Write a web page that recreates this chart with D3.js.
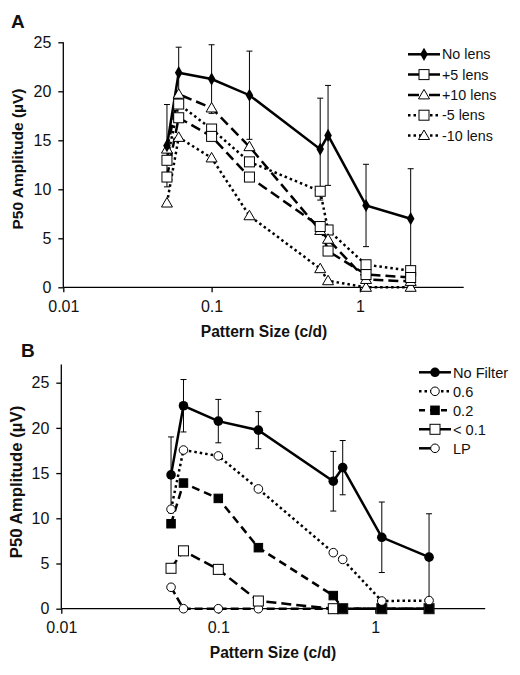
<!DOCTYPE html>
<html><head><meta charset="utf-8">
<script src="https://cdn.jsdelivr.net/npm/d3@7"></script>
<style>body{margin:0;background:#fff}svg{display:block}text{font-family:"Liberation Sans",Arial,sans-serif;fill:#111}</style>
</head><body>
<script>
// ---- Panel A data ----
const xA = [0.05, 0.06, 0.1, 0.18, 0.54, 0.61, 1.1, 2.2];
const noLens = [14.45, 21.9, 21.25, 19.6, 14.1, 15.5, 8.35, 7.0];
const noLensErr = [4.2, 2.6, 3.5, 4.5, 5.2, 5.1, 4.2, 5.1];
const plus5 = [11.25, 17.3, 15.4, 11.25, 6.2, 3.7, 1.3, 1.0];
const plus10 = [14.1, 19.7, 18.3, 14.35, 5.8, 4.9, 0.8, 0.6];
const minus5 = [12.96, 18.7, 16.15, 12.8, 9.8, 5.85, 2.3, 1.7];
const minus10 = [8.6, 15.3, 13.2, 7.3, 1.9, 0.67, 0, 0];
const seriesA = ["No lens", "+5 lens", "+10 lens", "-5 lens", "-10 lens"];
// ---- Panel B data ----
const xB = [0.05, 0.06, 0.1, 0.18, 0.54, 0.62, 1.1, 2.2];
const noFilter = [14.8, 22.45, 20.75, 19.75, 14.1, 15.6, 7.9, 5.7];
const noFilterErr = [4.2, 2.9, 2.4, 2.05, 3.3, 3.0, 3.9, 4.8];
const f06 = [11.0, 17.55, 16.9, 13.25, 6.2, 5.45, 0.85, 0.9];
const f02 = [9.4, 13.9, 12.2, 6.75, 1.45, 0, 0, 0];
const f01 = [4.47, 6.4, 4.35, 0.85, 0, 0, 0, 0];
const lp = [2.37, 0, 0, 0, 0, 0, 0, 0];
const seriesB = ["No Filter", "0.6", "0.2", "< 0.1", "LP"];
// ---- ticks ----
const xTicks = [0.01, 0.1, 1];
const xTickLabels = ["0.01", "0.1", "1"];
const yTicks = [0, 5, 10, 15, 20, 25];

const svg = d3.select("body").append("svg").attr("width", 520).attr("height", 675);

const SOLID = null, DASH = "10,5", DASH2 = "8,5", DOT = "2.5,3", LPDASH = "8,4";

function marker(g, type, x, y) {
  if (type === "diamond") {
    g.append("path").attr("d", d3.symbol(d3.symbolDiamond, 50)()).attr("transform", `translate(${x},${y})`).attr("fill", "#000");
  } else if (type === "sqOpen" || type === "sqFill") {
    const s = type === "sqOpen" ? 10 : 8.5;
    g.append("rect").attr("x", x - s / 2).attr("y", y - s / 2).attr("width", s).attr("height", s)
      .attr("fill", type === "sqOpen" ? "#fff" : "#000").attr("stroke", "#000").attr("stroke-width", 1);
  } else if (type === "tri") {
    g.append("path").attr("d", `M${x},${y - 5.5}L${x + 5.5},${y + 4}L${x - 5.5},${y + 4}Z`)
      .attr("fill", "#fff").attr("stroke", "#000").attr("stroke-width", 1);
  } else if (type === "circFill") {
    g.append("circle").attr("cx", x).attr("cy", y).attr("r", 4.8).attr("fill", "#000");
  } else if (type === "circOpen") {
    g.append("circle").attr("cx", x).attr("cy", y).attr("r", 4.3).attr("fill", "#fff").attr("stroke", "#000").attr("stroke-width", 1);
  }
}

function panel(cfg) {
  const x = d3.scaleLog().domain([0.01, Math.pow(10, 0.7)]).range([cfg.x0, cfg.x1]);
  const y = d3.scaleLinear().domain([0, cfg.ymax]).range([cfg.y0, cfg.y1]);
  const g = svg.append("g");

  const xa = g.append("g").attr("transform", `translate(0,${cfg.y0})`)
    .call(d3.axisBottom(x).tickValues(xTicks).tickFormat((d, i) => xTickLabels[i]).tickSize(5).tickPadding(5));
  const ya = g.append("g").attr("transform", `translate(${cfg.x0},0)`)
    .call(d3.axisLeft(y).tickValues(yTicks).tickSize(5).tickPadding(7));
  [xa, ya].forEach(a => {
    a.select(".domain").attr("stroke", "#000").attr("stroke-width", 1.3).attr("d",
      a === xa ? `M${cfg.x0},0H${cfg.x1}` : `M0,${cfg.y0}V${cfg.y1}`);
    a.selectAll(".tick line").attr("stroke", "#000").attr("stroke-width", 1.3);
    a.selectAll(".tick text").style("font-size", "16px").attr("fill", "#111")
      .style("font-family", '"Liberation Sans",Arial,sans-serif');
  });
  xa.selectAll(".tick text").attr("dy", "0.9em");

  const eg = g.append("g").attr("stroke", "#000").attr("stroke-width", 1);
  cfg.xs.forEach((xv, i) => {
    const v = cfg.main[i], e = cfg.err[i];
    const px = x(xv);
    eg.append("line").attr("x1", px).attr("x2", px).attr("y1", y(v + e)).attr("y2", y(Math.max(0, v - e)));
    eg.append("line").attr("x1", px - 3).attr("x2", px + 3).attr("y1", y(v + e)).attr("y2", y(v + e));
    if (v - e > 0) eg.append("line").attr("x1", px - 3).attr("x2", px + 3).attr("y1", y(v - e)).attr("y2", y(v - e));
  });

  const line = d3.line().x(d => x(d[0])).y(d => y(d[1]));
  cfg.series.slice().reverse().forEach(s => {
    g.append("path").attr("d", line(cfg.xs.map((xv, i) => [xv, s.vals[i]])))
      .attr("fill", "none").attr("stroke", "#000").attr("stroke-width", s.w || 2.5)
      .attr("stroke-dasharray", s.dash);
  });
  cfg.series.slice().reverse().forEach(s => {
    cfg.xs.forEach((xv, i) => marker(g, s.mk, x(xv), y(s.vals[i])));
  });

  cfg.series.forEach((s, i) => {
    const ly = cfg.legY + i * cfg.legDy;
    const lx0 = cfg.legX, lx1 = cfg.legX + 32;
    const mid = (lx0 + lx1) / 2;
    g.append("line").attr("x1", lx0).attr("x2", s.legHalf ? mid : lx1).attr("y1", ly).attr("y2", ly)
      .attr("stroke", "#000").attr("stroke-width", s.w || 2.5).attr("stroke-dasharray", s.legDash === undefined ? s.dash : s.legDash);
    marker(g, s.mk, mid, ly);
    g.append("text").attr("x", lx1 + 2).attr("y", ly).attr("dy", "0.36em")
      .style("font-size", cfg.legFont + "px").text(s.name);
  });

  g.append("text").attr("x", cfg.xtX).attr("y", cfg.xtY).attr("text-anchor", "middle")
    .style("font-size", "15.6px").style("font-weight", "bold").text("Pattern Size (c/d)");
  g.append("text").attr("transform", `translate(${cfg.ytX},${cfg.ytY}) rotate(-90)`).attr("text-anchor", "middle")
    .style("font-size", cfg.ytFont + "px").style("font-weight", "bold").text("P50 Amplitude (µV)");
  g.append("text").attr("x", cfg.lblX).attr("y", cfg.lblY).style("font-size", "19px").style("font-weight", "bold").text(cfg.label);
}

panel({
  label: "A", lblX: 11, lblY: 28,
  x0: 63.3, x1: 463.7, y0: 287.3, y1: 42.3, ymax: 25,
  xs: xA, main: noLens, err: noLensErr,
  series: [
    { name: seriesA[0], vals: noLens, mk: "diamond", dash: SOLID },
    { name: seriesA[1], vals: plus5, mk: "sqOpen", dash: DASH, legDash: "11,10" },
    { name: seriesA[2], vals: plus10, mk: "tri", dash: DASH, legDash: "11,10" },
    { name: seriesA[3], vals: minus5, mk: "sqOpen", dash: DOT },
    { name: seriesA[4], vals: minus10, mk: "tri", dash: DOT }
  ],
  legX: 408, legY: 54.3, legDy: 20.3, legFont: 14.3,
  xtX: 264, xtY: 337, ytX: 23, ytY: 159, ytFont: 15.5
});

panel({
  label: "B", lblX: 21, lblY: 357,
  x0: 61.3, x1: 485.2, y0: 608.7, y1: 364.6, ymax: 27,
  xs: xB, main: noFilter, err: noFilterErr,
  series: [
    { name: seriesB[0], vals: noFilter, mk: "circFill", dash: SOLID },
    { name: seriesB[1], vals: f06, mk: "circOpen", dash: DOT },
    { name: seriesB[2], vals: f02, mk: "sqFill", dash: DASH2, legDash: "6,5" },
    { name: seriesB[3], vals: f01, mk: "sqOpen", dash: DASH, legDash: "11,10" },
    { name: seriesB[4], vals: lp, mk: "circOpen", dash: LPDASH, legDash: null, legHalf: true }
  ],
  legX: 419, legY: 372.3, legDy: 19, legFont: 14.6,
  xtX: 273, xtY: 658, ytX: 22, ytY: 482, ytFont: 16.8
});
</script>
</body></html>
